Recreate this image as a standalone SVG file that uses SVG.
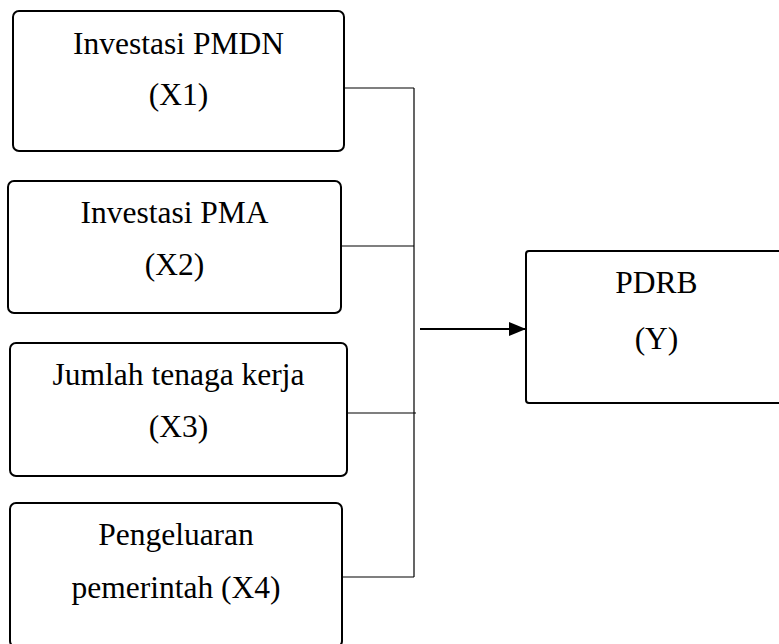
<svg xmlns="http://www.w3.org/2000/svg" width="779" height="644" viewBox="0 0 779 644">
<style>
.box{fill:#fff;stroke:#000;stroke-width:2}
.t{font-family:"Liberation Serif","Times New Roman",serif;font-size:31.5px;fill:#000;text-anchor:middle}
.c{fill:none;stroke:#000;stroke-width:1.2}
.a{fill:none;stroke:#000;stroke-width:2}
</style>
<defs>
<marker id="arr" markerWidth="17" markerHeight="14" refX="16" refY="7" orient="auto" markerUnits="userSpaceOnUse">
<path d="M0,0 L17,7 L0,14 Z" fill="#000"/>
</marker>
</defs>
<rect width="779" height="644" fill="#fff"/>
<g id="x1">
<rect class="box" x="13" y="11" width="331" height="140" rx="6"/>
<text class="t" x="178.5" y="54">Investasi PMDN</text>
<text class="t" x="178.5" y="105">(X1)</text>
</g>
<g id="x2">
<rect class="box" x="8" y="181" width="333" height="132" rx="6"/>
<text class="t" x="174.5" y="223">Investasi PMA</text>
<text class="t" x="174.5" y="275">(X2)</text>
</g>
<g id="x3">
<rect class="box" x="10" y="343" width="337" height="133" rx="6"/>
<text class="t" x="178.5" y="385">Jumlah tenaga kerja</text>
<text class="t" x="178.5" y="437">(X3)</text>
</g>
<g id="x4">
<rect class="box" x="10" y="503" width="332" height="144" rx="6"/>
<text class="t" x="176" y="545">Pengeluaran</text>
<text class="t" x="176" y="598">pemerintah (X4)</text>
</g>
<g id="y">
<rect class="box" x="526" y="251" width="262" height="152" rx="3"/>
<text class="t" x="656.5" y="293">PDRB</text>
<text class="t" x="656.5" y="349">(Y)</text>
</g>
<g id="connectors">
<path class="c" d="M344,88 H414 M341,246 H414 M347,413 H416 M342,577 H414 M414,88 V577"/>
<line class="a" x1="420" y1="329" x2="525" y2="329" marker-end="url(#arr)"/>
</g>
</svg>
